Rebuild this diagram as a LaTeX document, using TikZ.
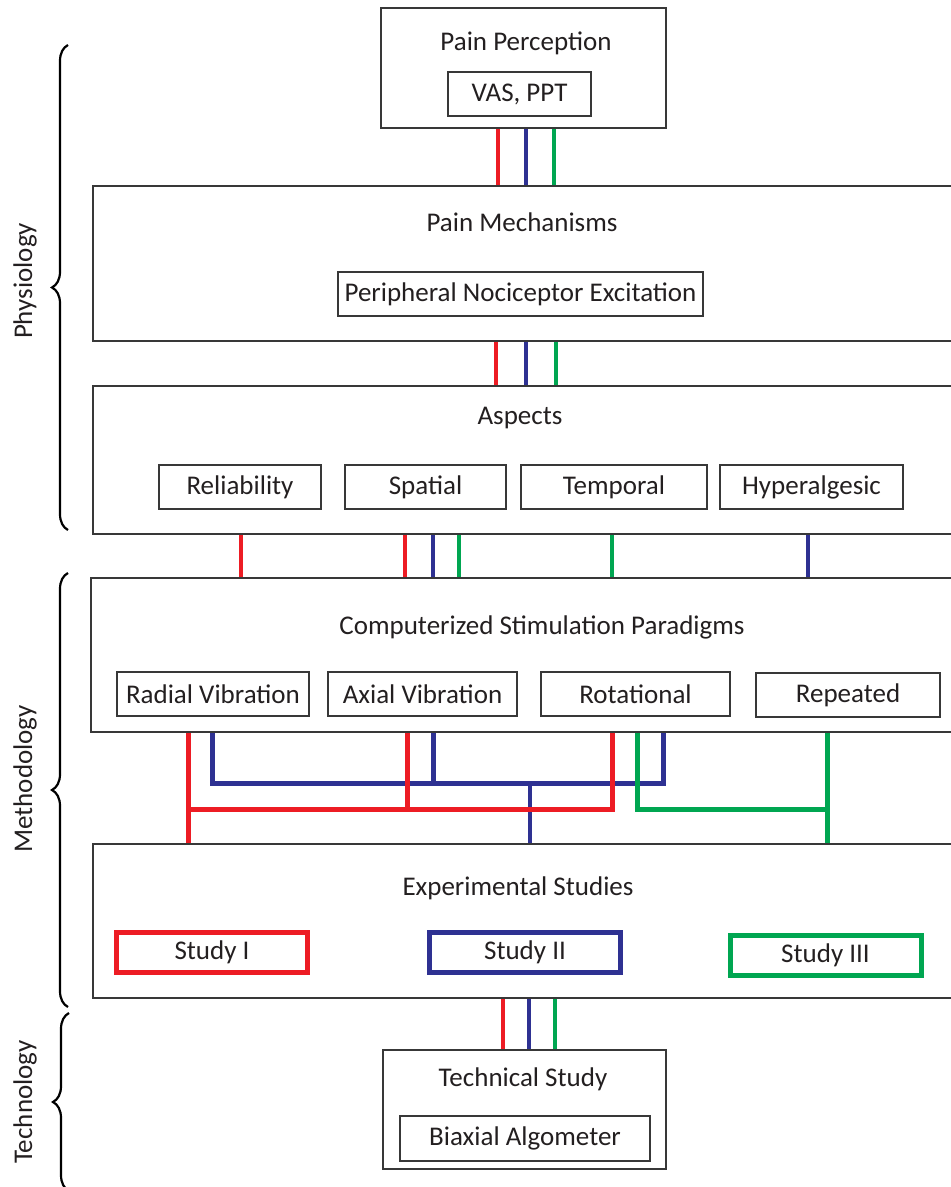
\documentclass[tikz,border=0pt]{standalone}
\usepackage{fontspec}
\setmainfont{Carlito}
\usetikzlibrary{decorations.pathreplacing}
\definecolor{cred}{HTML}{ED1C24}
\definecolor{cblue}{HTML}{2E3192}
\definecolor{cgreen}{HTML}{00A651}
\definecolor{boxline}{gray}{0.22}
\definecolor{txt}{HTML}{231F20}
\tikzset{
  boxfont/.style={font=\fontsize{13.5}{16}\selectfont, text=txt},
  bigbox/.style={draw=boxline, line width=1pt, minimum height=#1, inner sep=0pt},
  subbox/.style={boxfont, draw=boxline, line width=1pt, minimum height=22pt, inner sep=0pt},
  headtext/.style={boxfont, inner sep=0pt},
  study/.style={boxfont, draw=#1, line width=2.5pt, minimum width=95.5pt, minimum height=20pt, inner sep=0pt},
  wire/.style={line width=2pt},
  bus/.style={line width=2.5pt},
  sidebrace/.style={decorate, decoration={brace, amplitude=8pt}, line width=1.1pt},
  sidetext/.style={boxfont, rotate=90, inner sep=0pt}
}
\begin{document}
\begin{tikzpicture}[x=0.5pt, y=-0.5pt]
\useasboundingbox (0,0) rectangle (950,1187);
% Physiology
\node[bigbox=60pt, minimum width=142.5pt] (perc) at (523.5,68) {};
\node[headtext] (percT) at (526,43) {Pain Perception};
\node[subbox, minimum width=71.5pt] (vas) at (519.5,94) {VAS, PPT};

\node[bigbox=77.5pt, minimum width=453.5pt] (mech) at (546.5,263.5) {};
\node[headtext] (mechT) at (522,222) {Pain Mechanisms};
\node[subbox, minimum width=182.5pt] (noci) at (520.5,294) {Peripheral Nociceptor Excitation};

\node[bigbox=74pt, minimum width=453.5pt] (asp) at (546.5,460) {};
\node[headtext] (aspT) at (520,418) {Aspects};
\node[subbox, minimum width=81pt] (rel) at (240,487) {Reliability};
\node[subbox, minimum width=80.5pt] (spa) at (425.5,487) {Spatial};
\node[subbox, minimum width=93pt] (tem) at (614,487) {Temporal};
\node[subbox, minimum width=91.5pt] (hyp) at (811.5,487) {Hyperalgesic};

% Methodology
\node[bigbox=77pt, minimum width=454.5pt] (comp) at (545.5,655) {};
\node[headtext] (compT) at (542,627) {Computerized Stimulation Paradigms};
\node[subbox, minimum width=96pt] (rad) at (213,694) {Radial Vibration};
\node[subbox, minimum width=94.5pt] (axi) at (422.5,694) {Axial Vibration};
\node[subbox, minimum width=94.5pt] (rot) at (635.5,694) {Rotational};
\node[subbox, minimum width=92pt] (rep) at (848,695) {Repeated};

\node[bigbox=77pt, minimum width=453.5pt] (exp) at (546.5,921) {};
\node[headtext] (expT) at (518,888) {Experimental Studies};
\node[study=cred] (st1) at (212,952.5) {Study I};
\node[study=cblue] (st2) at (525,952.5) {Study II};
\node[study=cgreen] (st3) at (825.5,955) {Study III};

% Technology
\node[bigbox=59.5pt, minimum width=141.5pt] (tech) at (524.5,1109.5) {};
\node[headtext] (techT) at (523,1079) {Technical Study};
\node[subbox, minimum width=125pt, minimum height=22.5pt] (bia) at (525,1138.5) {Biaxial Algometer};

% short links
\foreach \xx/\cc in {498/cred, 526/cblue, 554/cgreen}
  \draw[wire, \cc] (perc.south -| \xx,0) -- (mech.north -| \xx,0);
\foreach \xx/\cc in {496/cred, 526/cblue, 556/cgreen}
  \draw[wire, \cc] (mech.south -| \xx,0) -- (asp.north -| \xx,0);
\foreach \xx/\cc in {241/cred, 405/cred, 433/cblue, 459/cgreen, 612/cgreen, 808/cblue}
  \draw[wire, \cc] (asp.south -| \xx,0) -- (comp.north -| \xx,0);
\foreach \xx/\cc in {503/cred, 529/cblue, 555/cgreen}
  \draw[wire, \cc] (exp.south -| \xx,0) -- (tech.north -| \xx,0);

% routing to the studies
\coordinate (highbus) at (0,783);
\coordinate (lowbus) at (0,809);
\draw[bus, cblue] (comp.south -| 212,0) |- (highbus -| 663,0) -- (comp.south -| 663,0);
\draw[bus, cblue] (comp.south -| 433,0) -- (highbus -| 433,0);
\draw[wire, cblue] (highbus -| 530,0) -- (exp.north -| 530,0);
\draw[bus, cred] (comp.south -| 188,0) -- (exp.north -| 188,0);
\draw[bus, cred] (comp.south -| 407,0) -- (lowbus -| 407,0);
\draw[bus, cred] (comp.south -| 612,0) |- (lowbus -| 188,0);
\draw[bus, cgreen] (comp.south -| 637,0) |- (lowbus -| 827,0);
\draw[bus, cgreen] (comp.south -| 827,0) -- (exp.north -| 827,0);

% side braces
\draw[sidebrace] (68,530) -- (68,45);
\node[sidetext] (physL) at (25,281) {Physiology};
\draw[sidebrace] (68,1007) -- (68,573);
\node[sidetext] (methL) at (25,779) {Methodology};
\draw[sidebrace] (69,1191) -- (69,1013);
\node[sidetext] (techL) at (25,1102) {Technology};
\end{tikzpicture}
\end{document}
